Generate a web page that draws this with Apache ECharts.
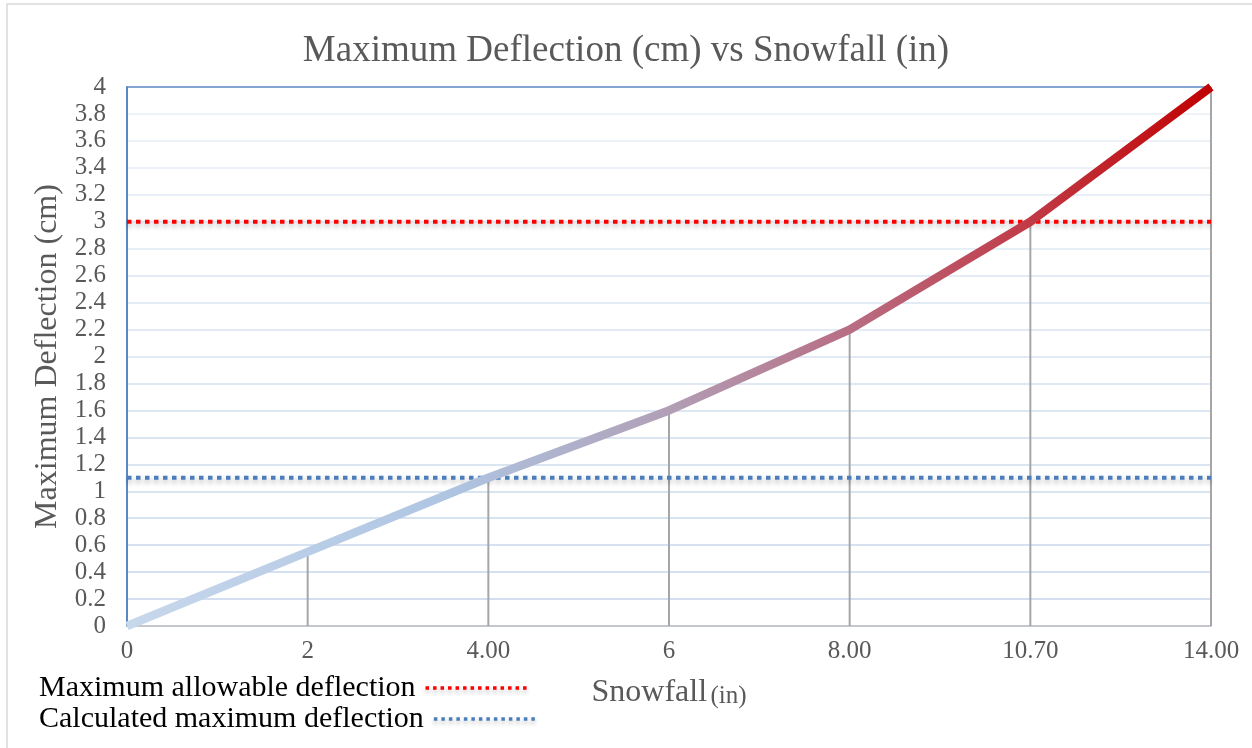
<!DOCTYPE html>
<html>
<head>
<meta charset="utf-8">
<script src="https://cdn.jsdelivr.net/npm/echarts@6/dist/echarts.min.js"></script>
<style>
html,body{margin:0;padding:0;background:#fff;}
#chart{width:1252px;height:748px;}
</style>
</head>
<body>
<div id="chart"></div>
<script>
const snowfallLabels = ['0', '2', '4.00', '6', '8.00', '10.70', '14.00'];
const deflection = [0, 0.55, 1.1, 1.6, 2.2, 3.0, 4.0];
const allowable = [3, 3, 3, 3, 3, 3, 3];
const calculated = [1.1, 1.1, 1.1, 1.1, 1.1, 1.1, 1.1];
const yMin = 0, yMax = 4, yStep = 0.2;

const serif = '"Liberation Serif", "DejaVu Serif", serif';
const chart = echarts.init(document.getElementById('chart'));

// gridline colours: lighter toward the top, top border blue
const nLines = Math.round((yMax - yMin) / yStep) + 1;
const gridColors = [];
for (let i = 0; i < nLines; i++) {
  if (i === nLines - 1) { gridColors.push('#5b87c5'); continue; }
  const t = i / (nLines - 1);
  const r = Math.round(0xc2 + (0xea - 0xc2) * t);
  const g = Math.round(0xd4 + (0xf0 - 0xd4) * t);
  const b = Math.round(0xea + (0xf7 - 0xea) * t);
  gridColors.push('rgb(' + r + ',' + g + ',' + b + ')');
}

const legendBase = {
  orient: 'vertical', left: 34, itemGap: 2,
  align: 'right', itemWidth: 103, itemHeight: 14,
  itemStyle: { opacity: 0 },
  lineStyle: { width: 3.5, type: [3.5, 4], shadowColor: 'rgba(0,0,0,0.25)', shadowBlur: 4, shadowOffsetY: 3 },
  textStyle: { fontFamily: serif, fontSize: 30, color: '#000', padding: [0, 5, 0, 0] }
};

const option = {
  backgroundColor: '#fff',
  animation: false,
  graphic: [{
    type: 'rect', silent: true, z: -10,
    shape: { x: 7, y: 4, width: 1300, height: 800 },
    style: { fill: 'none', stroke: '#d9d9d9', lineWidth: 1.5 }
  }],
  title: {
    text: 'Maximum Deflection (cm) vs Snowfall (in)',
    left: 'center', top: 28,
    textStyle: { fontFamily: serif, fontSize: 37, fontWeight: 'normal', color: '#595959' }
  },
  legend: [
    Object.assign({}, legendBase, { data: ['Maximum allowable deflection'], top: 668 }),
    Object.assign({}, legendBase, { data: ['Calculated maximum deflection'], top: 699 })
  ],
  grid: { left: 127, right: 41, top: 87, bottom: 122 },
  xAxis: {
    type: 'category', boundaryGap: false, data: snowfallLabels,
    name: '{a|Snowfall} {b|(in)}', nameLocation: 'middle', nameGap: 51,
    nameTextStyle: {
      rich: {
        a: { fontFamily: serif, fontSize: 32, color: '#595959' },
        b: { fontFamily: serif, fontSize: 25, color: '#595959', padding: [6, 0, 0, 0] }
      }
    },
    axisLine: { lineStyle: { color: '#bfbfbf', width: 1.5 } },
    axisTick: { show: false },
    axisLabel: { margin: 13, fontFamily: serif, fontSize: 25, color: '#595959' },
    splitLine: { show: false }
  },
  yAxis: {
    type: 'value', min: yMin, max: yMax, interval: yStep,
    name: 'Maximum Deflection (cm)', nameLocation: 'middle', nameGap: 50,
    nameTextStyle: { fontFamily: serif, fontSize: 32, color: '#595959' },
    axisLine: { show: true, lineStyle: { color: '#5b87c5', width: 2 } },
    axisTick: { show: false },
    axisLabel: { margin: 21, fontFamily: serif, fontSize: 25, color: '#595959' },
    splitLine: { show: true, lineStyle: { color: gridColors, width: 1.5 } }
  },
  series: [
    {
      name: 'drop', type: 'bar', data: deflection, barWidth: 2, z: 1,
      itemStyle: { color: '#a6a6a6' }, silent: true
    },
    {
      name: 'Maximum allowable deflection', type: 'line', data: allowable,
      symbol: 'none', z: 3,
      lineStyle: { color: '#ff0000', width: 4, type: [4.5, 4.5],
        shadowColor: 'rgba(0,0,0,0.3)', shadowBlur: 5, shadowOffsetY: 3 },
      itemStyle: { color: '#ff0000' }
    },
    {
      name: 'Calculated maximum deflection', type: 'line', data: calculated,
      symbol: 'none', z: 3,
      lineStyle: { color: '#4a7ebb', width: 4, type: [4.5, 4.5],
        shadowColor: 'rgba(0,0,0,0.3)', shadowBlur: 5, shadowOffsetY: 3 },
      itemStyle: { color: '#4a7ebb' }
    },
    {
      name: 'Maximum Deflection', type: 'line', data: deflection,
      symbol: 'none', z: 4,
      lineStyle: {
        width: 8.5,
        color: new echarts.graphic.LinearGradient(0, 0, 1, 0, [
          { offset: 0, color: '#c8d8ec' },
          { offset: 0.3, color: '#aec5e2' },
          { offset: 0.5, color: '#b19fb6' },
          { offset: 0.67, color: '#b86c82' },
          { offset: 0.83, color: '#c13a46' },
          { offset: 1, color: '#c00000' }
        ])
      }
    }
  ]
};
chart.setOption(option);
</script>
</body>
</html>
